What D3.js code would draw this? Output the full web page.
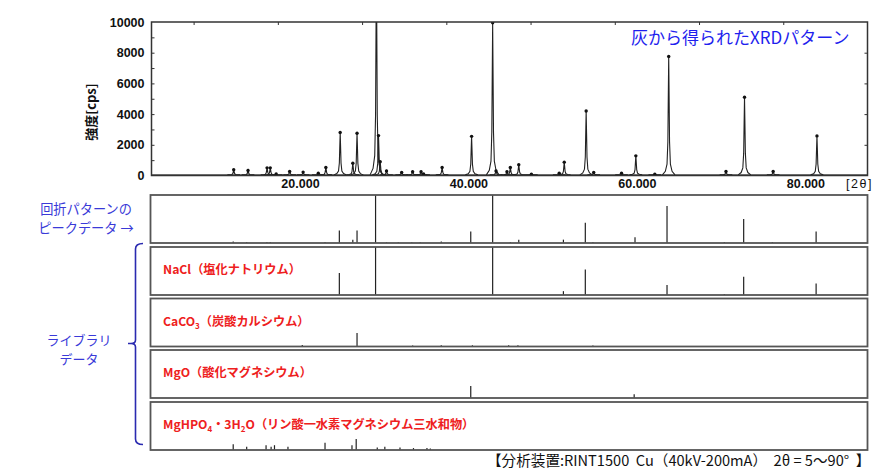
<!DOCTYPE html>
<html><head><meta charset="utf-8">
<script src="https://cdn.jsdelivr.net/npm/d3@7"></script>
<style>
html,body{margin:0;padding:0;background:#fff;}
svg{display:block;}
</style></head>
<body>
<svg id="c" width="881" height="473"></svg>
<script>
// ---------- DATA ----------
// Measured XRD pattern: [2θ (deg), intensity (cps)]
const patternPeaks = [
  [14.76,370],[16.46,330],[18.72,500],[19.1,500],[19.8,100],[21.4,260],[23.0,220],
  [24.8,150],[25.7,520],[27.4,2800],[28.9,800],[29.4,2750],[31.7,14000],[31.95,2600],
  [32.15,900],[32.9,300],[34.7,200],[36.0,250],[37.0,250],[37.3,100],[39.5,520],
  [43.0,2550],[45.5,9950],[45.9,300],[47.2,250],[47.6,520],[48.6,700],[50.1,80],
  [53.4,150],[54.0,870],[56.6,4200],[57.5,200],[60.8,150],[62.5,1280],[64.75,80],
  [66.4,7750],[73.2,260],[75.4,5100],[78.8,260],[84.0,2580]
];
// Stick data: [2θ, relative height %]
const peakData = [
  [14.7,3],[16.3,2],[18.7,2],[19.1,2],[25.6,2],[27.3,26],[28.9,7],[29.4,26],[31.6,100],
  [32.9,1.5],[34.3,1.5],[35.9,1.5],[36.9,1.5],[39.4,3],[42.9,24],[45.5,100],[47.6,2],
  [48.6,7],[53.9,7],[56.5,42],[57.4,2],[62.4,12],[66.2,77],[73.0,2],[75.3,50],[78.7,2],[83.9,24]
];
const naclData = [[27.3,46],[31.6,100],[45.5,100],[53.9,8],[56.5,53],[66.2,21],[73.0,2],[75.3,38],[83.9,24]];
const caco3Data = [[22.9,3],[29.4,28],[36.0,2],[39.4,2.5],[43.1,2.5],[47.4,2.5],[48.5,2.5],[57.4,2]];
const mgoData = [[42.9,25],[62.3,8]];
const mghpo4Data = [[14.7,12],[16.3,7],[18.6,10],[19.2,7],[19.6,10],[21.2,7],[25.6,15],[28.8,10],
  [29.3,23],[31.8,5],[32.7,7],[34.5,5],[36.1,4],[37.7,4],[38.1,3]];

const yTickLabels = [0,2000,4000,6000,8000,10000];
const xTickLabels = [20,40,60,80];
const titleText = "灰から得られたXRDパターン";
const yAxisTitle = "強度[cps]";
const xAxisUnit = "[2θ]";
const footerText = "【分析装置:RINT1500  Cu（40kV-200mA）  2θ = 5〜90°  】";
const peakLabelLines = ["回折パターンの","ピークデータ →"];
const libLabelLines = ["ライブラリ","データ"];

// ---------- DRAW ----------
const svg = d3.select("#c");
const FONT = "'Liberation Sans','Noto Sans CJK JP',sans-serif";
const JP = "'Noto Sans CJK JP','Noto Sans',sans-serif";

const L = 151.5, R = 867.5;
const x = d3.scaleLinear().domain([5,90]).range([L,R]);
const top0 = 22, bot0 = 175.5;
const y = d3.scaleLinear().domain([0,10000]).range([bot0, top0]);

svg.append("clipPath").attr("id","pc").append("rect")
  .attr("x",L).attr("y",top0).attr("width",R-L).attr("height",bot0-top0);

const plot = svg.append("g").attr("clip-path","url(#pc)");
plot.append("line").attr("x1",L).attr("x2",R).attr("y1",y(40)).attr("y2",y(40))
  .attr("stroke","#333").attr("stroke-width",1);
// peak profile shape (style constants: offset in deg, fraction of height)
const shape = [[-0.75,0.0],[-0.4,0.03],[-0.2,0.09],[-0.1,0.28],[-0.05,0.65],[0,1],
               [0.05,0.65],[0.1,0.28],[0.2,0.09],[0.4,0.03],[0.75,0.0]];
const line = d3.line().x(d=>x(d[0])).y(d=>y(d[1]));
plot.selectAll("path.pk").data(patternPeaks).join("path")
  .attr("class","pk")
  .attr("d", p => line(shape.map(s => [p[0]+s[0], 40 + (p[1]-40)*s[1]])))
  .attr("fill","none").attr("stroke","#222").attr("stroke-width",1.1);
plot.selectAll("circle.mk").data(patternPeaks.filter(p=>p[1]<=10000)).join("circle")
  .attr("class","mk").attr("cx",p=>x(p[0])).attr("cy",p=>y(p[1])).attr("r",1.7).attr("fill","#111");

svg.append("rect").attr("x",L).attr("y",top0).attr("width",R-L).attr("height",bot0-top0)
  .attr("fill","none").attr("stroke","#333").attr("stroke-width",1.5);

const yAx = svg.append("g").attr("transform",`translate(${L},0)`)
  .call(d3.axisLeft(y).tickValues(yTickLabels).tickSize(0).tickPadding(7).tickFormat(d3.format("d")));
yAx.select(".domain").remove();
yAx.selectAll("text").attr("font-family",FONT).attr("font-size",12.5).attr("font-weight","bold").attr("fill","#111");
const yMin = svg.append("g").attr("transform",`translate(${L},0)`)
  .call(d3.axisRight(y).tickValues(d3.range(1000,10000,1000)).tickSize(3).tickFormat(""));
yMin.select(".domain").remove(); yMin.selectAll("line").attr("stroke","#333");
const yR = svg.append("g").attr("transform",`translate(${R},0)`)
  .call(d3.axisLeft(y).tickValues(d3.range(2000,10000,2000)).tickSize(3).tickFormat(""));
yR.select(".domain").remove(); yR.selectAll("line").attr("stroke","#333");
const xTop = svg.append("g").attr("transform",`translate(0,${top0})`)
  .call(d3.axisBottom(x).tickValues(d3.range(10,90,10)).tickSize(3).tickFormat(""));
xTop.select(".domain").remove(); xTop.selectAll("line").attr("stroke","#333");

const xAx = svg.append("g").attr("transform",`translate(0,${bot0})`)
  .call(d3.axisBottom(x).tickValues(xTickLabels).tickSize(0).tickPadding(4).tickFormat(d3.format(".3f")));
xAx.select(".domain").remove();
xAx.selectAll("text").attr("font-family",FONT).attr("font-size",12.5).attr("font-weight","bold")
  .attr("fill","#111").attr("text-anchor","start").attr("dx",3);
svg.append("text").attr("x",846).attr("y",188).attr("font-family",FONT).attr("font-size",12.5)
  .attr("fill","#111").attr("letter-spacing",1.5).text(xAxisUnit);

svg.append("text").attr("transform","translate(96,112) rotate(-90)").attr("text-anchor","middle")
  .attr("font-family",JP).attr("font-size",13).attr("font-weight","bold").attr("fill","#111").text(yAxisTitle);

svg.append("text").attr("x",631).attr("y",44).attr("font-family",JP).attr("font-size",17)
  .attr("fill","#1f1fee").text(titleText);

// ---------- stick panels ----------
const panels = [
  {data:peakData, top:195, label:null},
  {data:naclData, top:247, label:[["NaCl（塩化ナトリウム）",0]]},
  {data:caco3Data, top:298.5, label:[["CaCO",0],["3",1],["（炭酸カルシウム）",-1]]},
  {data:mgoData, top:350, label:[["MgO（酸化マグネシウム）",0]]},
  {data:mghpo4Data, top:402, label:[["MgHPO",0],["4",1],["・3H",-1],["2",1],["O（リン酸一水素マグネシウム三水和物）",-1]]}
];
const PH = 48;
panels.forEach(p => {
  const g = svg.append("g");
  const ys = d3.scaleLinear().domain([0,100]).range([p.top+PH, p.top]);
  g.selectAll("line.st").data(p.data).join("line").attr("class","st")
    .attr("x1",d=>x(d[0])).attr("x2",d=>x(d[0]))
    .attr("y1",ys(0)).attr("y2",d=>ys(d[1]))
    .attr("stroke","#222").attr("stroke-width",1.2);
  g.append("rect").attr("x",L-1).attr("y",p.top).attr("width",R-L+1).attr("height",PH)
    .attr("fill","none").attr("stroke","#555").attr("stroke-width",1.8);
  if (p.label) {
    const t = g.append("text").attr("x",163).attr("y",p.top+27)
      .attr("font-family",JP).attr("font-size",12.2).attr("font-weight","bold").attr("fill","#ee2020");
    p.label.forEach(([s,sub]) => {
      const ts = t.append("tspan").text(s);
      if (sub===1) ts.attr("dy",3).attr("font-size",8);
      if (sub===-1) ts.attr("dy",-3);
    });
  }
});

// left annotations
const blue = "#3a3ad8";
function twoLine(lines, cx, y0, dy, fs) {
  lines.forEach((s,i) => svg.append("text").attr("text-anchor","middle").attr("font-family",JP)
    .attr("font-size",fs).attr("fill",blue).attr("x",cx).attr("y",y0 + i*dy).text(s));
}
twoLine(peakLabelLines, 86, 214, 19, 13.2);
twoLine(libLabelLines, 79, 345, 19, 13);

svg.append("path")
  .attr("d","M143,243.5 Q135.5,243.5 135.5,249 L135.5,340 Q135.5,343.5 131,343.5 L128,343.5 M131,343.5 Q135.5,343.5 135.5,347 L135.5,439 Q135.5,444.5 143,444.5")
  .attr("fill","none").attr("stroke","#2a2ab0").attr("stroke-width",1.6);

svg.append("text").attr("x",487).attr("y",466).attr("font-family",JP).attr("font-size",14.6)
  .attr("fill","#111").attr("xml:space","preserve").style("white-space","pre").text(footerText);
</script>
</body></html>
